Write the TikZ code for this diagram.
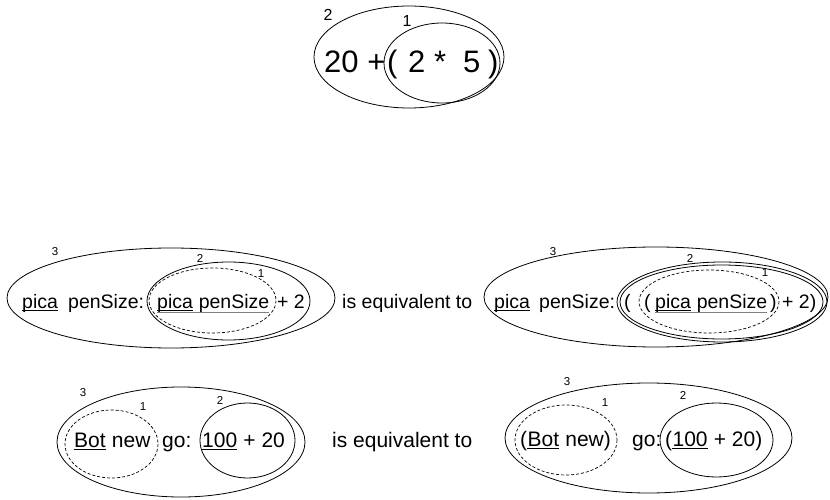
\documentclass[tikz,border=0pt]{standalone}
\usepackage{fontspec}
\setmainfont{Liberation Sans}
\begin{document}
\begin{tikzpicture}[x=1pt,y=-1pt,
  txt/.style={inner sep=0pt, anchor=base west, font=\fontsize{19.5}{22}\selectfont},
  txtb/.style={inner sep=0pt, anchor=base west, font=\fontsize{21}{23}\selectfont},
  big/.style={inner sep=0pt, anchor=base west, font=\fontsize{31}{34}\selectfont},
  lbl/.style={inner sep=0pt, font=\fontsize{11.5}{13}\selectfont},
  lblbig/.style={inner sep=0pt, font=\fontsize{16}{18}\selectfont},
  ring/.style={line width=0.8pt},
  dring/.style={line width=0.7pt, dash pattern=on 3pt off 2pt},
  uline/.style={line width=0.9pt},
  gline/.style={line width=1pt, gray}]
\useasboundingbox (0,0) rectangle (830,500);
% ---------- top ----------
\draw[ring] (409,57) ellipse [x radius=95, y radius=51];
\draw[ring] (442,63) ellipse [x radius=58, y radius=40];
\node[big] (t0) at (324,73) {20 +};
\node[big] (t1) at (387,73) {(};
\node[big] (t2) at (408,73) {2};
\node[big] (t3) at (434,73) {*};
\node[big] (t4) at (463,73) {5};
\node[big] (t5) at (488,73) {)};
\node[lblbig] (t2l) at (328,15) {2};
\node[lblbig] (t1l) at (407,21) {1};
% ---------- middle left ----------
\draw[ring] (171,298) ellipse [x radius=164, y radius=50];
\draw[ring] (228.5,301) ellipse [x radius=81.5, y radius=39];
\draw[dring] (212.5,300.5) ellipse [x radius=63.5, y radius=32.5];
\node[txt] (a1) at (22,308) {pica};
\node[txt] (a2) at (68,308) {penSize:};
\node[txt] (a3) at (157,308) {pica};
\node[txt] (a4) at (a3.base east) {\ penSize};
\node[txt] (a5) at (277,308) {+ 2};
\draw[uline] ([yshift=-2.5pt]a1.base west) -- ([yshift=-2.5pt]a1.base east);
\draw[uline] ([yshift=-2.5pt]a3.base west) -- ([yshift=-2.5pt]a3.base east);
\draw[gline] ([yshift=-4.5pt]a3.base west) -- ([yshift=-4.5pt]a4.base east);
\node[lbl] (a3l) at (55,252) {3};
\node[lbl] (a2l) at (200,258) {2};
\node[lbl] (a1l) at (261,274) {1};
\node[txt] (eq1) at (342,308) {is equivalent to};
% ---------- middle right ----------
\draw[ring] (656,297) ellipse [x radius=172, y radius=50];
\draw[ring] (722,302) ellipse [x radius=105, y radius=40];
\draw[ring] (721.5,302) ellipse [x radius=101.5, y radius=37];
\draw[dring] (709,301.5) ellipse [x radius=70, y radius=31.5];
\node[txt] (b1) at (494,308) {pica};
\node[txt] (b2) at (539,308) {penSize:};
\node[txt] (b3) at (624,308) {(};
\node[txt] (b4) at (644,308) {(};
\node[txt] (b5) at (655,308) {pica};
\node[txt] (b6) at (b5.base east) {\ penSize};
\node[txt] (b7) at (770,308) {)};
\node[txt] (b8) at (782,308) {+ 2)};
\draw[uline] ([yshift=-2.5pt]b1.base west) -- ([yshift=-2.5pt]b1.base east);
\draw[uline] ([yshift=-2.5pt]b5.base west) -- ([yshift=-2.5pt]b5.base east);
\draw[gline] ([yshift=-4.5pt]b5.base west) -- ([yshift=-4.5pt]b6.base east);
\node[lbl] (b3l) at (553,252) {3};
\node[lbl] (b2l) at (690,258) {2};
\node[lbl] (b1l) at (765,273) {1};
% ---------- bottom left ----------
\draw[ring] (181,442) ellipse [x radius=124, y radius=55];
\draw[dring] (111.5,444) ellipse [x radius=46.5, y radius=34];
\draw[ring] (247.5,440.5) ellipse [x radius=47.5, y radius=37.5];
\node[txtb] (c1) at (74,447) {Bot};
\node[txtb] (c2) at (c1.base east) {\ new};
\node[txtb] (c3) at (162,447) {go:};
\node[txtb] (c4) at (202,447) {100};
\node[txtb] (c5) at (c4.base east) {\ + 20};
\draw[uline] ([yshift=-2.5pt]c1.base west) -- ([yshift=-2.5pt]c1.base east);
\draw[uline] ([yshift=-2.5pt]c4.base west) -- ([yshift=-2.5pt]c4.base east);
\node[lbl] (c3l) at (83,393) {3};
\node[lbl] (c1l) at (143,407) {1};
\node[lbl] (c2l) at (220,400) {2};
\node[txtb] (eq2) at (332,447) {is equivalent to};
% ---------- bottom right ----------
\draw[ring] (648.5,438) ellipse [x radius=143.5, y radius=55];
\draw[dring] (566,440) ellipse [x radius=51, y radius=35];
\draw[ring] (716.5,440) ellipse [x radius=56.5, y radius=37];
\node[txtb] (d1) at (520,446) {(};
\node[txtb] (d2) at (d1.base east) {Bot};
\node[txtb] (d3) at (d2.base east) {\ new)};
\node[txtb] (d4) at (632,446) {go:};
\node[txtb] (d5) at (665,446) {(};
\node[txtb] (d6) at (d5.base east) {100};
\node[txtb] (d7) at (d6.base east) {\ + 20)};
\draw[uline] ([yshift=-2.5pt]d2.base west) -- ([yshift=-2.5pt]d2.base east);
\draw[uline] ([yshift=-2.5pt]d6.base west) -- ([yshift=-2.5pt]d6.base east);
\node[lbl] (d3l) at (567,382) {3};
\node[lbl] (d1l) at (605,403) {1};
\node[lbl] (d2l) at (683,395) {2};
\end{tikzpicture}
\end{document}
